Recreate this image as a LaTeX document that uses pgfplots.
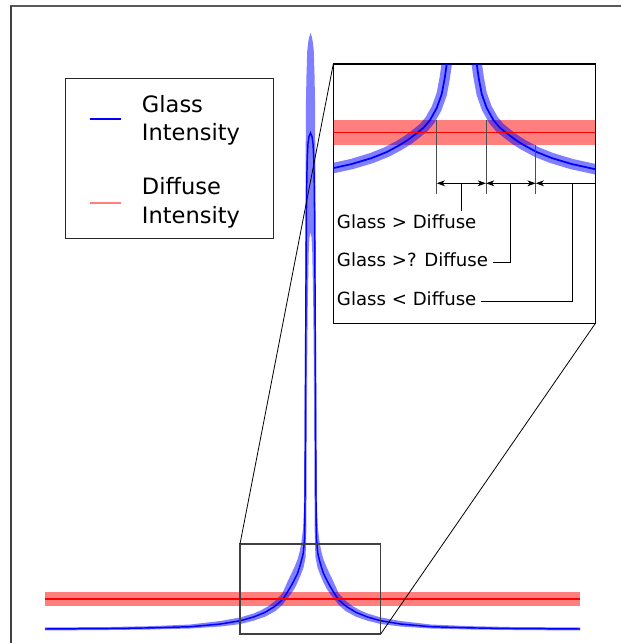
\documentclass[border=0pt]{standalone}
\usepackage{pgfplots}
\pgfplotsset{compat=1.18}
\usepackage{pgfplotstable}
\usepackage{fontspec}
\setmainfont{DejaVu Sans}
\usetikzlibrary{arrows.meta}

% Glass intensity (centre line)
\pgfplotstableread{
x y
-265.5 0.5
-200 1.0
-160 1.6
-120 2.8
-90 5.5
-70 8.8
-57 12.5
-45.8 17
-36.2 22.8
-28.3 29.5
-23.8 36.2
-20 42.5
-16.2 49.5
-13 56
-10.8 62.8
-9 69
-7.2 76.5
-6 90
-5.6 110
-5.3 170
-5.0 250
-4.6 330
-4.2 400
-3.7 450
-3.2 472
-2.5 486
-1.5 493
0 496.5
1.5 493
2.5 486
3.2 472
3.7 450
4.2 400
4.6 330
5.0 250
5.3 170
5.6 110
6 90
7.2 76.5
9 69
10.8 62.8
13 56
16.2 49.5
20 42.5
23.8 36.2
28.3 29.5
36.2 22.8
45.8 17
57 12.5
70 8.8
90 5.5
120 2.8
160 1.6
200 1.0
269.5 0.5
}\glass

% Glass intensity uncertainty band (upper edge left->right, lower edge right->left)
\pgfplotstableread{
x y
-265.5 2.0
-200 2.5
-160 3.3
-120 5.0
-90 8.5
-70 12.1
-57 16
-50 19
-41.8 23.5
-35 29
-28.3 36
-22.2 49.5
-16.2 62
-13 70
-10.8 78
-9 88
-7.5 100
-6.6 120
-6.0 170
-5.6 250
-5.3 330
-5.1 400
-4.8 480
-4.5 530
-4.0 555
-3.3 578
-2.5 586
-1.5 592
0 596.5
1.5 592
2.5 586
3.3 578
4.0 555
4.5 530
4.8 480
5.1 400
5.3 330
5.6 250
6.0 170
6.6 120
7.5 100
9 88
10.8 78
13 70
16.2 62
22.2 49.5
28.3 36
35 29
41.8 23.5
50 19
57 16
70 12.1
90 8.5
120 5.0
160 3.3
200 2.5
269.5 2.0
269.5 -1.0
200 -0.5
160 0.0
120 1.0
90 3.0
70 5.5
57 8.8
45 13
35 18.5
28.3 24.5
24 30
20 35
16 41
13 47
10 54
7 62
5 72
4.3 90
4.0 130
3.7 200
3.3 270
2.8 320
2.2 355
1.7 380
1.0 392
0 397.5
-1.0 392
-1.7 380
-2.2 355
-2.8 320
-3.3 270
-3.7 200
-4.0 130
-4.3 90
-5 72
-7 62
-10 54
-13 47
-16 41
-20 35
-24 30
-28.3 24.5
-35 18.5
-45 13
-57 8.8
-70 5.5
-90 3.0
-120 1.0
-160 0.0
-200 -0.5
-265.5 -1.0
}\glassband

% Diffuse intensity: line and band
\pgfplotstableread{
x y
-265.5 30.5
269.5 30.5
}\diffuse
\pgfplotstableread{
x y
-265.5 23.5
269.5 23.5
269.5 37.5
-265.5 37.5
}\diffuseband

% Inset (magnified view) data
\pgfplotstableread{
x y
-140 152
-135 154
-110 159.5
-90 165.5
-75 171.5
-62 178.5
-54 183.5
-46 189.5
-38 196
-31.7 203.5
-25 215.5
-20 229.5
-17 245.5
-15 259.5
-13.5 275
-12.5 290
}\insetglassL
\pgfplotstableread{
x y
12.5 290
13.5 275
15 259.5
17 245.5
20 229.5
25 215.5
31.7 203.5
38 196
46 189.5
54 183.5
62 178.5
75 171.5
90 165.5
110 159.5
135 154
140 152
}\insetglassR
\pgfplotstableread{
x y
-140 191
140 191
}\insetdiffuse
\pgfplotstableread{
x y
-140 178.8
140 178.8
140 203.5
-140 203.5
}\insetdiffuseband

\definecolor{pureblue}{RGB}{0,0,255}
\definecolor{purered}{RGB}{255,0,0}
\definecolor{bandred}{RGB}{255,128,128}

\begin{document}
\begin{tikzpicture}
\begin{axis}[
  at={(0,0)}, anchor=south west,
  width=465.75pt, height=482.25pt, scale only axis,
  xmin=-310.5, xmax=310.5, ymin=-13.5, ymax=629.5,
  hide axis,
]
\addplot[draw=none, fill=purered, fill opacity=0.5] table {\diffuseband};
\addplot[draw=none, fill=pureblue, fill opacity=0.5] table {\glassband};
\addplot[pureblue, line width=1.1pt] table {\glass};
\addplot[purered, line width=1.1pt] table {\diffuse};
\end{axis}

% connecting lines, zoom rectangle and frame (pixel coordinates)
\begin{scope}[x=0.75pt, y=-0.75pt, shift={(0,482.25pt)}]
  \draw[black!65, line width=0.8pt] (10,6) -- (621,6);
  \draw[black!75, line width=0.8pt] (11,6) -- (11,643);
  \draw[black!75, line width=0.8pt] (240,544) rectangle (380.7,634);
  \draw[black, line width=0.6pt] (240,544) -- (333.3,64);
  \draw[black, line width=0.6pt] (380.7,634) -- (595.3,323.5);
\end{scope}

\begin{axis}[
  at={(250pt,239.6pt)}, anchor=south west,
  width=196.5pt, height=194.6pt, scale only axis,
  xmin=-128.4, xmax=133.6, ymin=0, ymax=259.5,
  xtick=\empty, ytick=\empty,
  axis line style={line width=1.1pt, black},
  axis background/.style={fill=white},
]
\addplot[draw=none, fill=purered, fill opacity=0.5] table {\insetdiffuseband};
\addplot[pureblue, draw opacity=0.5, line width=7.8pt, line join=round] table {\insetglassL};
\addplot[pureblue, draw opacity=0.5, line width=7.8pt, line join=round] table {\insetglassR};
\addplot[pureblue, line width=1.3pt] table {\insetglassL};
\addplot[pureblue, line width=1.3pt] table {\insetglassR};
\addplot[purered, line width=1.2pt] table {\insetdiffuse};
\end{axis}

% inset annotations and legend (pixel coordinates)
\begin{scope}[x=0.75pt, y=-0.75pt, shift={(0,482.25pt)}]
  \draw[black!70, line width=0.7pt] (436.7,120) -- (436.7,194);
  \draw[black!70, line width=0.7pt] (486,120) -- (486,194);
  \draw[black!70, line width=0.7pt] (535.7,145) -- (535.7,194);
  \draw[black, line width=0.7pt, {Stealth[length=6.2pt,width=4.4pt,inset=1.8pt]}-{Stealth[length=6.2pt,width=4.4pt,inset=1.8pt]}] (436.7,183.3) -- (486,183.3);
  \draw[black, line width=0.7pt, {Stealth[length=6.2pt,width=4.4pt,inset=1.8pt]}-{Stealth[length=6.2pt,width=4.4pt,inset=1.8pt]}] (486,183.3) -- (535.7,183.3);
  \draw[black, line width=0.7pt, {Stealth[length=6.2pt,width=4.4pt,inset=1.8pt]}-] (535.7,183.3) -- (595.3,183.3);
  \draw[black, line width=0.7pt] (461.7,183.3) -- (461.7,210.7);
  \draw[black, line width=0.7pt] (510,183.3) -- (510,262.7) -- (493.3,262.7);
  \draw[black, line width=0.7pt] (572.3,183.3) -- (572.3,301.7) -- (480.7,301.7);
  \begin{scope}[every node/.style={anchor=base west, inner sep=0pt, font=\fontsize{13.6pt}{16pt}\selectfont}]
    \node at (336.7,228.3) {Glass > Diffuse};
    \node at (336.7,266.7) {Glass >? Diffuse};
    \node at (336.7,305.7) {Glass < Diffuse};
  \end{scope}
  % legend
  \draw[black!85, line width=0.75pt] (65,78.3) rectangle (273.3,239);
  \path[draw=pureblue, line width=1.3pt] (90,119.3) -- (121,119.3);
  \path[draw=bandred, line width=1.3pt] (90,202.7) -- (121,202.7);
  \begin{scope}[every node/.style={anchor=base west, inner sep=0pt, font=\fontsize{16.9pt}{20pt}\selectfont}]
    \node at (141.7,112.3) {Glass};
    \node at (141.7,140.7) {Intensity};
    \node at (141.7,195) {Diffuse};
    \node at (141.7,223.3) {Intensity};
  \end{scope}
\end{scope}

\pgfresetboundingbox
\useasboundingbox (0,0) rectangle (465.75pt,482.25pt);
\end{tikzpicture}
\end{document}
